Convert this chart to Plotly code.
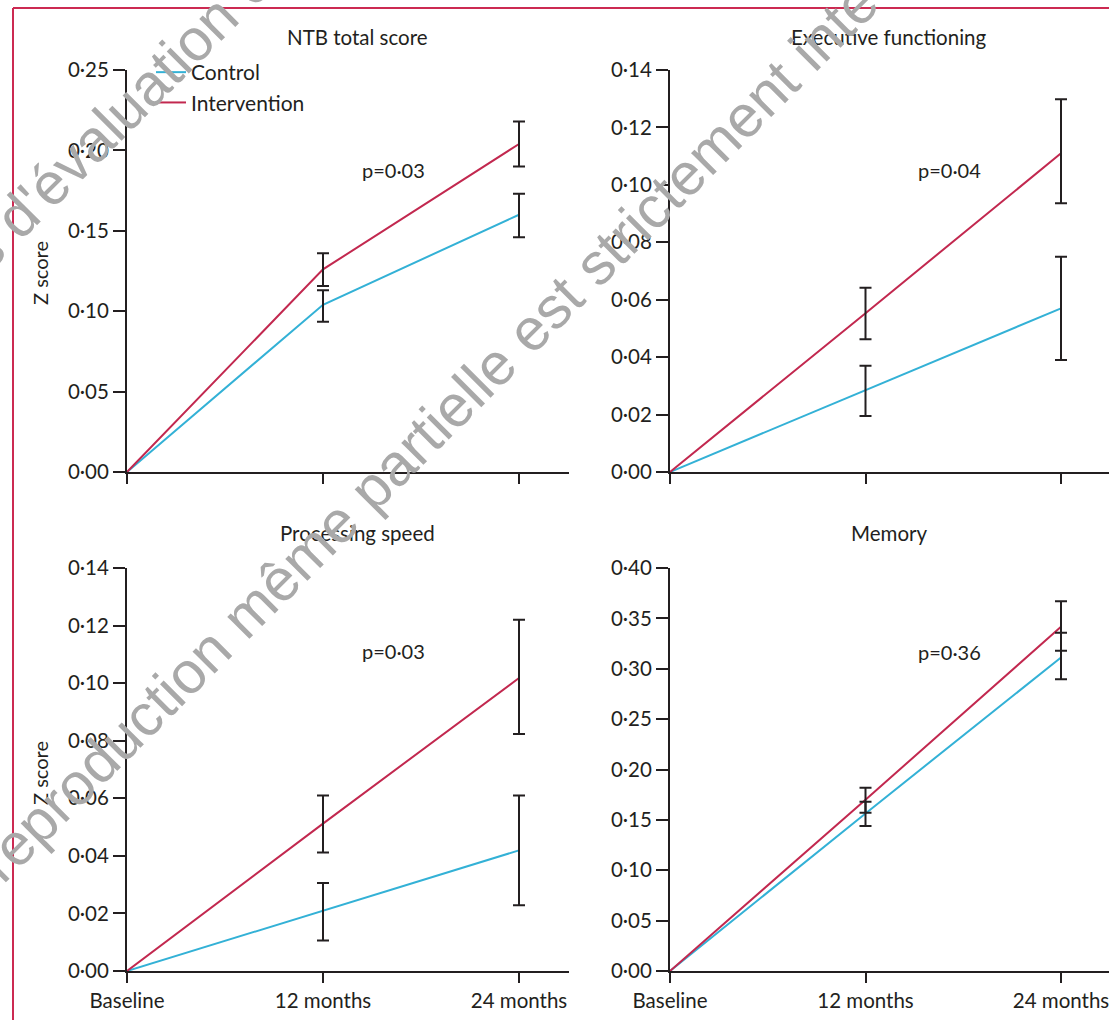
import plotly.graph_objects as go

# ---------------- data ----------------
timepoints = ["Baseline", "12 months", "24 months"]
time_x = [0, 1, 2]

panel_titles = ["NTB total score", "Executive functioning", "Processing speed", "Memory"]
p_values = ["p=0·03", "p=0·04", "p=0·03", "p=0·36"]

# NTB total score
ntb_control = [0.0, 0.104, 0.160]
ntb_control_lo = [0.0, 0.0935, 0.146]
ntb_control_hi = [0.0, 0.113, 0.173]
ntb_interv = [0.0, 0.126, 0.204]
ntb_interv_lo = [0.0, 0.1157, 0.190]
ntb_interv_hi = [0.0, 0.136, 0.218]

# Executive functioning
exe_control = [0.0, 0.0286, 0.0570]
exe_control_lo = [0.0, 0.0195, 0.0390]
exe_control_hi = [0.0, 0.0370, 0.0750]
exe_interv = [0.0, 0.0553, 0.1110]
exe_interv_lo = [0.0, 0.0462, 0.0936]
exe_interv_hi = [0.0, 0.0642, 0.1298]

# Processing speed
spd_control = [0.0, 0.0210, 0.0419]
spd_control_lo = [0.0, 0.0106, 0.0228]
spd_control_hi = [0.0, 0.0306, 0.0610]
spd_interv = [0.0, 0.0512, 0.1018]
spd_interv_lo = [0.0, 0.0412, 0.0823]
spd_interv_hi = [0.0, 0.0610, 0.1220]

# Memory
mem_control = [0.0, 0.1564, 0.3112]
mem_control_lo = [0.0, 0.1438, 0.2897]
mem_control_hi = [0.0, 0.1680, 0.3357]
mem_interv = [0.0, 0.1700, 0.3416]
mem_interv_lo = [0.0, 0.1570, 0.3178]
mem_interv_hi = [0.0, 0.1819, 0.3670]

# y tick values / labels per panel
ntb_ticks = [0.00, 0.05, 0.10, 0.15, 0.20, 0.25]
ntb_ticktext = ["0·00", "0·05", "0·10", "0·15", "0·20", "0·25"]
small_ticks = [0.00, 0.02, 0.04, 0.06, 0.08, 0.10, 0.12, 0.14]
small_ticktext = ["0·00", "0·02", "0·04", "0·06", "0·08", "0·10", "0·12", "0·14"]
mem_ticks = [0.00, 0.05, 0.10, 0.15, 0.20, 0.25, 0.30, 0.35, 0.40]
mem_ticktext = ["0·00", "0·05", "0·10", "0·15", "0·20", "0·25", "0·30", "0·35", "0·40"]

# ---------------- style ----------------
W, H = 1109, 1020
C_CONTROL = "#33b1d6"
C_INTERV = "#c2284f"
C_FRAME = "#cc2a52"
C_INK = "#231f20"
FONT = "Lato"
FS = 20.5

panels = [
    dict(c=ntb_control, clo=ntb_control_lo, chi=ntb_control_hi,
         i=ntb_interv, ilo=ntb_interv_lo, ihi=ntb_interv_hi,
         ticks=ntb_ticks, ticktext=ntb_ticktext, yr=[0, 0.25]),
    dict(c=exe_control, clo=exe_control_lo, chi=exe_control_hi,
         i=exe_interv, ilo=exe_interv_lo, ihi=exe_interv_hi,
         ticks=small_ticks, ticktext=small_ticktext, yr=[0, 0.14]),
    dict(c=spd_control, clo=spd_control_lo, chi=spd_control_hi,
         i=spd_interv, ilo=spd_interv_lo, ihi=spd_interv_hi,
         ticks=small_ticks, ticktext=small_ticktext, yr=[0, 0.14]),
    dict(c=mem_control, clo=mem_control_lo, chi=mem_control_hi,
         i=mem_interv, ilo=mem_interv_lo, ihi=mem_interv_hi,
         ticks=mem_ticks, ticktext=mem_ticktext, yr=[0, 0.40]),
]

# pixel layout -> paper domains
left_x = [127 / W, 569 / W]
right_x = [670 / W, 1.0]
left_range = [0, 442 / 196]
right_range = [0, 439 / 195.5]
top_y = [(H - 472) / H, (H - 70) / H]
bot_y = [(H - 971) / H, (H - 568) / H]

xdoms = [left_x, right_x, left_x, right_x]
xranges = [left_range, right_range, left_range, right_range]
ydoms = [top_y, top_y, bot_y, bot_y]

fig = go.Figure()

for k, p in enumerate(panels):
    xa = "x" if k == 0 else f"x{k+1}"
    ya = "y" if k == 0 else f"y{k+1}"
    fig.add_trace(go.Scatter(x=time_x, y=p["c"], mode="lines", name="Control",
                             line=dict(color=C_CONTROL, width=2),
                             showlegend=(k == 0), legendgroup="c",
                             xaxis=xa, yaxis=ya, hoverinfo="skip"))
    fig.add_trace(go.Scatter(x=time_x, y=p["i"], mode="lines", name="Intervention",
                             line=dict(color=C_INTERV, width=2),
                             showlegend=(k == 0), legendgroup="i",
                             xaxis=xa, yaxis=ya, hoverinfo="skip"))
    for mean, lo, hi in ((p["c"], p["clo"], p["chi"]), (p["i"], p["ilo"], p["ihi"])):
        fig.add_trace(go.Scatter(
            x=time_x[1:], y=mean[1:], mode="markers",
            marker=dict(size=1, color="rgba(0,0,0,0)"),
            error_y=dict(type="data", symmetric=False,
                         array=[h - m for h, m in zip(hi[1:], mean[1:])],
                         arrayminus=[m - l for m, l in zip(mean[1:], lo[1:])],
                         color=C_INK, thickness=2, width=6),
            showlegend=False, hoverinfo="skip", xaxis=xa, yaxis=ya))

layout = dict(
    width=W, height=H,
    margin=dict(l=0, r=0, t=0, b=0, autoexpand=False),
    paper_bgcolor="white", plot_bgcolor="white",
    font=dict(family=FONT, size=FS, color=C_INK),
    showlegend=True,
    legend=dict(x=151 / W, y=1 - 52 / H, xanchor="left", yanchor="top",
                bgcolor="rgba(0,0,0,0)", tracegroupgap=0,
                font=dict(family=FONT, size=21, color=C_INK)),
)

for k in range(4):
    sx = "" if k == 0 else str(k + 1)
    layout[f"xaxis{sx}"] = dict(
        domain=xdoms[k], range=xranges[k], anchor=("y" if k == 0 else f"y{k+1}"),
        tickvals=time_x, ticktext=timepoints, showticklabels=(k >= 2),
        ticks="outside", ticklen=10, tickwidth=2, tickcolor=C_INK,
        showline=True, linecolor=C_INK, linewidth=2,
        showgrid=False, zeroline=False, automargin=False,
        ticklabeloverflow="allow",
        tickfont=dict(family=FONT, size=FS, color=C_INK),
    )
    layout[f"yaxis{sx}"] = dict(
        domain=ydoms[k], range=panels[k]["yr"], anchor=("x" if k == 0 else f"x{k+1}"),
        tickvals=panels[k]["ticks"], ticktext=panels[k]["ticktext"],
        ticks="outside", ticklen=12, tickwidth=2, tickcolor=C_INK,
        showline=True, linecolor=C_INK, linewidth=2,
        showgrid=False, zeroline=False, automargin=False,
        ticklabeloverflow="allow",
        tickfont=dict(family=FONT, size=FS, color=C_INK),
    )

fig.update_layout(**layout)

annotations = []
# panel titles
title_pos = [(357, 37), (889, 37), (357, 533), (889, 533)]
for t, (px, py) in zip(panel_titles, title_pos):
    annotations.append(dict(text=t, x=px / W, y=1 - py / H, xref="paper", yref="paper",
                            showarrow=False, xanchor="center", yanchor="middle",
                            font=dict(family=FONT, size=FS, color=C_INK)))
# p values (data coords)
p_pos = [(1.362, 0.1878), (1.432, 0.1052), (1.362, 0.1112), (1.432, 0.3165)]
for k, (txt, (px, py)) in enumerate(zip(p_values, p_pos)):
    sx = "" if k == 0 else str(k + 1)
    annotations.append(dict(text=txt, x=px, y=py, xref=f"x{sx}", yref=f"y{sx}",
                            showarrow=False, xanchor="center", yanchor="middle",
                            font=dict(family=FONT, size=20, color=C_INK)))
# y axis titles
for py in (273, 773):
    annotations.append(dict(text="Z score", x=40 / W, y=1 - py / H, xref="paper", yref="paper",
                            showarrow=False, textangle=-90, xanchor="center", yanchor="middle",
                            font=dict(family=FONT, size=20, color=C_INK)))
# watermark
wm = [("s d'évaluation e", 118, 116), ("reproduction même partielle est strictement inte", 428, 432)]
for txt, px, py in wm:
    annotations.append(dict(text=txt, x=px / W, y=1 - py / H, xref="paper", yref="paper",
                            showarrow=False, textangle=-45, xanchor="center", yanchor="middle",
                            font=dict(family="Liberation Sans", size=59, color="#a9a9a9")))
fig.update_layout(annotations=annotations)

# red frame
fig.add_shape(type="line", xref="paper", yref="paper", x0=13 / W, x1=1.0,
              y0=1 - 8 / H, y1=1 - 8 / H, line=dict(color=C_FRAME, width=2))
fig.add_shape(type="line", xref="paper", yref="paper", x0=13 / W, x1=13 / W,
              y0=0, y1=1 - 8 / H, line=dict(color=C_FRAME, width=2))

fig.write_html("out.html",
               config={"displayModeBar": False},
               post_script="document.body.style.margin='0px';document.body.style.overflow='hidden';")
